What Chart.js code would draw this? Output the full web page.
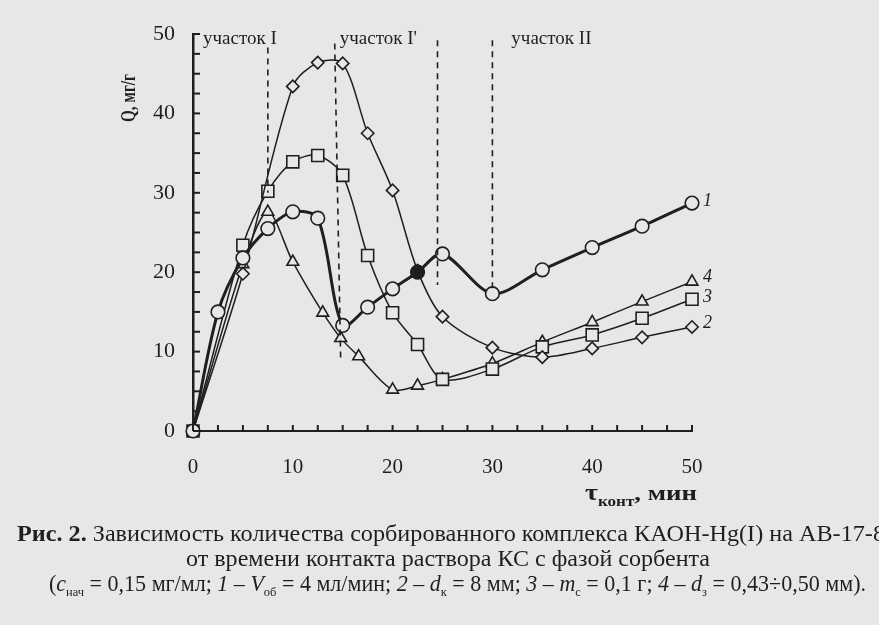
<!DOCTYPE html>
<html>
<head>
<meta charset="utf-8">
<script src="https://cdn.jsdelivr.net/npm/chart.js@4.4.1/dist/chart.umd.min.js"></script>
<style>
    html, body { margin: 0; padding: 0; background: #e7e7e7; }
    #widget { width: 879px; height: 625px; position: relative; }
</style>
</head>
<body>
<div id="widget"><canvas id="sorptionChart"></canvas></div>
<script>
// curve 1 (circles), 2 (diamonds), 3 (squares), 4 (triangles)
const timeMin1 = [0, 2.5, 5, 7.5, 10, 12.5, 15, 17.5, 20, 22.5, 25, 30, 35, 40, 45, 50];
const q1 = [0, 15, 21.8, 25.5, 27.6, 26.8, 13.3, 15.6, 17.9, 20, 22.3, 17.3, 20.3, 23.1, 25.8, 28.7];
const timeMin2 = [0, 5, 10, 12.5, 15, 17.5, 20, 22.5, 25, 30, 35, 40, 45, 50];
const q2 = [0, 19.8, 43.4, 46.4, 46.3, 37.5, 30.3, 20.2, 14.4, 10.5, 9.3, 10.4, 11.8, 13.1];
const timeMin3 = [0, 5, 7.5, 10, 12.5, 15, 17.5, 20, 22.5, 25, 30, 35, 40, 45, 50];
const q3 = [0, 23.4, 30.2, 33.9, 34.7, 32.2, 22.1, 14.9, 10.9, 6.5, 7.8, 10.6, 12.1, 14.2, 16.6];
const timeMin4 = [0, 5, 7.5, 10, 13, 14.8, 16.6, 20, 22.5, 25, 30, 35, 40, 45, 50];
const q4 = [0, 21, 27.6, 21.3, 14.9, 11.7, 9.4, 5.2, 5.7, 6.5, 8.5, 11.2, 13.7, 16.3, 18.8];
const curveNames = ['1', '2', '3', '4'];

// dashed boundaries between the regions
const boundaryTopX = [7.5, 14.2, 24.5, 30];
const boundaryBottomX = [7.5, 14.8, 24.5, 30];
const boundaryTopQ = [48.3, 48.8, 49.2, 49.2];
const boundaryBottomQ = [30, 8.8, 18.4, 17.5];
const regionLabels = ['участок I', "участок I'", 'участок II'];
const regionStartX = [1.0, 14.7, 31.9];

const xTickLabels = ['0', '10', '20', '30', '40', '50'];
const yTickLabels = ['0', '10', '20', '30', '40', '50'];

const BG = '#e7e7e7';
const INK = '#1f1f1f';

function toPoints(xs, ys) {
    return xs.map((x, i) => ({ x: x, y: ys[i] }));
}

function curve(xs, ys, style, radius, lineWidth) {
    return {
        data: toPoints(xs, ys),
        borderColor: INK,
        borderWidth: lineWidth,
        pointStyle: style,
        pointRadius: radius,
        pointBorderWidth: 1.6,
        pointBorderColor: INK,
        pointBackgroundColor: BG,
        tension: 0.3,
        clip: false
    };
}

const datasets = [];
boundaryTopX.forEach((x, i) => {
    datasets.push({
        data: [{ x: x, y: boundaryTopQ[i] }, { x: boundaryBottomX[i], y: boundaryBottomQ[i] }],
        borderColor: INK,
        borderWidth: 1.6,
        borderDash: [6, 5],
        pointRadius: 0,
        clip: false
    });
});
const c1 = curve(timeMin1, q1, 'circle', 6.8, 3);
c1.pointBackgroundColor = timeMin1.map(t => t === 22.5 ? INK : BG);
datasets.push(c1);
datasets.push(curve(timeMin2, q2, 'rectRot', 6.2, 1.5));
const c3 = curve(timeMin3, q3, 'rect', 8.5, 1.5);
c3.pointBackgroundColor = timeMin3.map(t => t === 0 ? INK : BG);
datasets.push(c3);
datasets.push(curve(timeMin4, q4, 'triangle', 6.8, 1.5));

// draws a row of differently styled pieces, squeezed to a given width
function drawRich(ctx, segments, left, baseline, width) {
    let total = 0;
    segments.forEach(s => { ctx.font = s.font; total += ctx.measureText(s.text).width; });
    const sx = width / total;
    ctx.save();
    ctx.translate(left, baseline);
    ctx.scale(sx, 1);
    let x = 0;
    segments.forEach(s => {
        ctx.font = s.font;
        ctx.fillText(s.text, x, s.dy || 0);
        x += ctx.measureText(s.text).width;
    });
    ctx.restore();
}

const SERIF = '"Liberation Serif", "DejaVu Serif", serif';
const R = '23px ' + SERIF, B = 'bold 23px ' + SERIF, I = 'italic 23px ' + SERIF, S = '13px ' + SERIF;

const backgroundPlugin = {
    id: 'paper',
    beforeDraw(chart) {
        const ctx = chart.ctx;
        ctx.save();
        ctx.fillStyle = BG;
        ctx.fillRect(0, 0, chart.width, chart.height);
        ctx.restore();
    }
};

const decorPlugin = {
    id: 'decor',
    afterDraw(chart) {
        const ctx = chart.ctx;
        const xs = chart.scales.x, ys = chart.scales.y;
        const x0 = xs.getPixelForValue(0), y0 = ys.getPixelForValue(0);
        ctx.save();
        ctx.strokeStyle = INK;
        ctx.fillStyle = INK;
        ctx.lineWidth = 2;
        // inner tick marks every 2.5
        ys.ticks.forEach(t => {
            const py = ys.getPixelForValue(t.value);
            ctx.beginPath(); ctx.moveTo(x0, py); ctx.lineTo(x0 + 7, py); ctx.stroke();
        });
        xs.ticks.forEach(t => {
            const px = xs.getPixelForValue(t.value);
            ctx.beginPath(); ctx.moveTo(px, y0); ctx.lineTo(px, y0 - 6); ctx.stroke();
        });

        // region names
        ctx.font = '19px ' + SERIF;
        ctx.textBaseline = 'alphabetic';
        regionLabels.forEach((label, i) => {
            ctx.fillText(label, xs.getPixelForValue(regionStartX[i]), ys.getPixelForValue(48.7));
        });

        // curve numbers at the right end
        const lastQ = [q1[q1.length - 1], q2[q2.length - 1], q3[q3.length - 1], q4[q4.length - 1]];
        const shift = [-2, -4, -2, -4];
        ctx.font = 'italic 18px ' + SERIF;
        ctx.textBaseline = 'middle';
        curveNames.forEach((n, i) => {
            ctx.fillText(n, xs.getPixelForValue(50) + 11, ys.getPixelForValue(lastQ[i]) + shift[i]);
        });

        // axis titles
        ctx.textBaseline = 'middle';
        ctx.save();
        ctx.translate(129, 98);
        ctx.rotate(-Math.PI / 2);
        drawRich(ctx, [{ text: 'Q, мг/г', font: 'bold 22px ' + SERIF }], -24, 0, 48);
        ctx.restore();
        ctx.textBaseline = 'alphabetic';
        drawRich(ctx, [
            { text: 'τ', font: 'bold 23px ' + SERIF },
            { text: 'конт', font: 'bold 14px ' + SERIF, dy: 6 },
            { text: ', мин', font: 'bold 22px ' + SERIF }
        ], 585, 500, 112);

        // caption
        drawRich(ctx, [
            { text: 'Рис. 2. ', font: B },
            { text: 'Зависимость количества сорбированного комплекса КАОН-Hg(I) на АВ-17-8', font: R }
        ], 17, 541, 868);
        drawRich(ctx, [
            { text: 'от времени контакта раствора КС с фазой сорбента', font: R }
        ], 186, 566, 524);
        drawRich(ctx, [
            { text: '(', font: R }, { text: 'c', font: I }, { text: 'нач', font: S, dy: 5 },
            { text: ' = 0,15 мг/мл; ', font: R }, { text: '1', font: I }, { text: ' – ', font: R },
            { text: 'V', font: I }, { text: 'об', font: S, dy: 5 }, { text: ' = 4 мл/мин; ', font: R },
            { text: '2', font: I }, { text: ' – ', font: R }, { text: 'd', font: I }, { text: 'к', font: S, dy: 5 },
            { text: ' = 8 мм; ', font: R }, { text: '3', font: I }, { text: ' – ', font: R },
            { text: 'm', font: I }, { text: 'с', font: S, dy: 5 }, { text: ' = 0,1 г; ', font: R },
            { text: '4', font: I }, { text: ' – ', font: R }, { text: 'd', font: I }, { text: 'з', font: S, dy: 5 },
            { text: ' = 0,43÷0,50 мм).', font: R }
        ], 49, 591, 817);
        ctx.restore();
    }
};

const sorptionChartConfig = {
    type: 'line',
    data: { datasets: datasets },
    options: {
        responsive: true,
        maintainAspectRatio: false,
        animation: false,
        layout: { padding: { left: 0, right: 187, top: 34, bottom: 0 } },
        scales: {
            x: {
                type: 'linear',
                min: 0,
                max: 50,
                afterFit: scale => { scale.height = 194; },
                grid: { display: false, drawTicks: false },
                border: { display: true, color: INK, width: 2 },
                ticks: {
                    stepSize: 2.5,
                    autoSkip: false,
                    maxRotation: 0,
                    padding: 24,
                    color: INK,
                    font: { family: SERIF, size: 21 },
                    callback: v => (v % 10 === 0 ? xTickLabels[v / 10] : '')
                }
            },
            y: {
                type: 'linear',
                min: 0,
                max: 50,
                afterFit: scale => { scale.width = 193; },
                grid: { display: false, drawTicks: false },
                border: { display: true, color: INK, width: 2.5 },
                ticks: {
                    stepSize: 2.5,
                    autoSkip: false,
                    padding: 18,
                    color: INK,
                    font: { family: SERIF, size: 22 },
                    callback: v => (v % 10 === 0 ? yTickLabels[v / 10] : '')
                }
            }
        },
        plugins: {
            legend: { display: false },
            tooltip: { enabled: false },
            title: { display: false }
        }
    },
    plugins: [backgroundPlugin, decorPlugin]
};

const ctx = document.getElementById('sorptionChart').getContext('2d');
const sorptionChart = new Chart(ctx, sorptionChartConfig);
</script>
</body>
</html>
